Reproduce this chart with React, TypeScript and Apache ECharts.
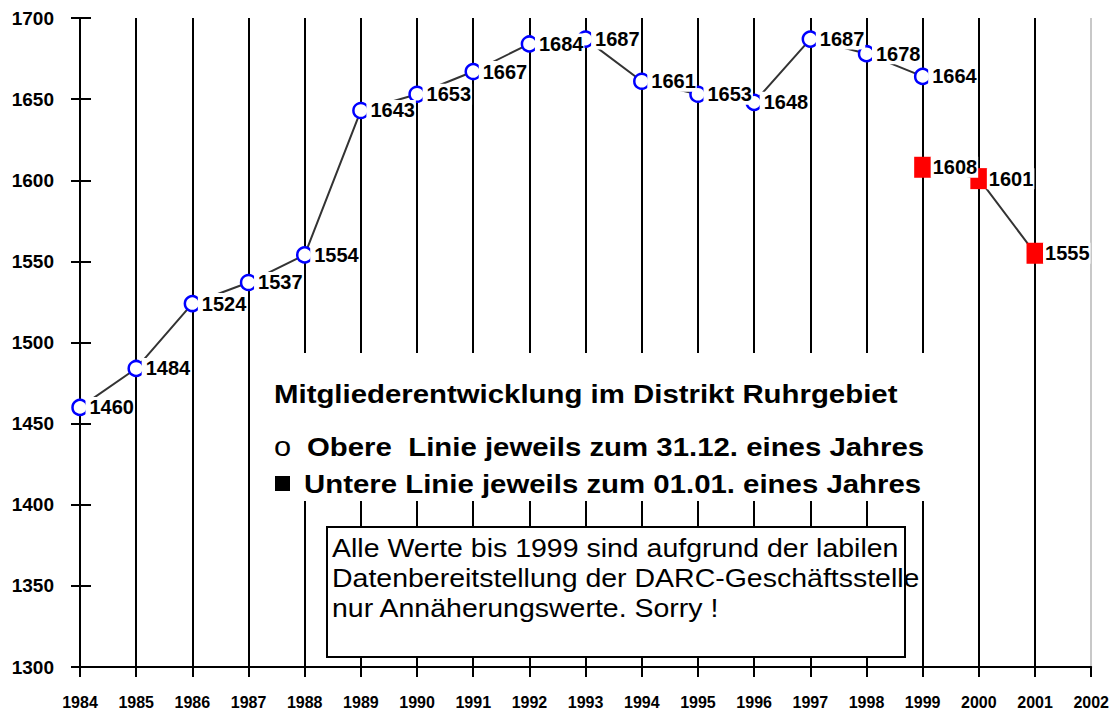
import React, { useEffect, useRef } from "react";
import * as echarts from "echarts";

// ---- data ----
const upperYears = [1984, 1985, 1986, 1987, 1988, 1989, 1990, 1991, 1992, 1993, 1994, 1995, 1996, 1997, 1998, 1999];
const upperValues = [1460, 1484, 1524, 1537, 1554, 1643, 1653, 1667, 1684, 1687, 1661, 1653, 1648, 1687, 1678, 1664];
const lowerYears = [1999, 2000, 2001];
const lowerValues = [1608, 1601, 1555];

const xMin = 1984;
const xMax = 2002;
const yMin = 1300;
const yMax = 1700;
const yStep = 50;

const titleText = "Mitgliederentwicklung im Distrikt Ruhrgebiet";
const upperMarkText = "o";
const upperLegendText = "Obere  Linie jeweils zum 31.12. eines Jahres";
const lowerLegendText = "Untere Linie jeweils zum 01.01. eines Jahres";
const noteLines = [
  "Alle Werte bis 1999 sind aufgrund der labilen",
  "Datenbereitstellung der DARC-Geschäftsstelle",
  "nur Annäherungswerte. Sorry !",
];

const FONT = '"Liberation Sans", Arial, Helvetica, sans-serif';

export default function App() {
  const ref = useRef<HTMLDivElement>(null);

  useEffect(() => {
    if (!ref.current) return;
    const chart = echarts.init(ref.current, undefined, { renderer: "svg" });

    const splitColors: string[] = [];
    for (let v = xMin; v <= xMax; v++) splitColors.push(v === xMax ? "#c8c8c8" : "#000");

    const labelBase = {
      show: true,
      position: "right" as const,
      color: "#000",
      opacity: 1,
      textBorderWidth: 0,
      fontFamily: FONT,
      fontWeight: "bold" as const,
      fontSize: 20,
      lineHeight: 21,
      backgroundColor: "#fff",
      formatter: (p: any) => String(p.value[1]),
    };

    const tickStyle = { color: "#000", width: 2 };
    const upperData = upperYears.map((y, i) => [y, upperValues[i]]);
    const lowerData = lowerYears.map((y, i) => [y, lowerValues[i]]);

    const option: any = {
      animation: false,
      grid: { left: 80, right: 20, top: 18, bottom: 46, containLabel: false },
      xAxis: {
        type: "value",
        min: xMin,
        max: xMax,
        interval: 1,
        axisLine: { show: true, lineStyle: { color: "#000", width: 2 } },
        axisTick: { show: true, length: 10, lineStyle: tickStyle },
        axisLabel: {
          show: true,
          formatter: (v: number) => String(v),
          color: "#000",
          fontFamily: FONT,
          fontWeight: "bold",
          fontSize: 16,
          margin: 27,
        },
        splitLine: { show: true, lineStyle: { color: splitColors, width: 2 } },
      },
      yAxis: [
        {
          type: "value",
          min: yMin,
          max: yMax,
          interval: yStep,
          position: "left",
          axisLine: { show: true, lineStyle: { color: "#000", width: 2 } },
          axisTick: { show: true, length: 9, lineStyle: tickStyle },
          axisLabel: {
            show: true,
            color: "#000",
            fontFamily: FONT,
            fontWeight: "bold",
            fontSize: 19,
            margin: 26,
            formatter: (v: number) => String(v),
          },
          splitLine: { show: false },
        },
        {
          type: "value",
          min: yMin,
          max: yMax,
          interval: yStep,
          position: "left",
          offset: 0,
          axisLine: { show: false },
          axisTick: { show: true, inside: true, length: 11, lineStyle: tickStyle },
          axisLabel: { show: false },
          splitLine: { show: false },
        },
      ],
      series: [
        {
          type: "line",
          data: upperData,
          symbol: "circle",
          symbolSize: 15,
          lineStyle: { color: "#333", width: 2 },
          itemStyle: { color: "#fff", borderColor: "#0000ff", borderWidth: 2.5 },
          label: { show: false },
          z: 3,
        },
        {
          type: "line",
          data: lowerData,
          symbol: "rect",
          symbolSize: [17, 21],
          lineStyle: { color: "#333", width: 2 },
          itemStyle: { color: "#ff0000", borderWidth: 0 },
          label: { show: false },
          z: 3,
        },
        {
          type: "scatter",
          data: upperData,
          symbolSize: 1,
          itemStyle: { color: "#fff", opacity: 1 },
          label: { ...labelBase, distance: 5, padding: [0, 1, 0, 4] },
          emphasis: { disabled: true },
          silent: true,
          z: 10,
        },
        {
          type: "scatter",
          data: lowerData,
          symbolSize: 0,
          itemStyle: { color: "#fff", opacity: 1 },
          label: { ...labelBase, distance: 8, padding: [0, 1, 0, 2] },
          emphasis: { disabled: true },
          silent: true,
          z: 10,
        },
      ],
      graphic: [
        { type: "rect", z: 100, shape: { x: 262, y: 353, width: 678, height: 148 }, style: { fill: "#fff" } },
        {
          type: "text", z: 101, x: 274, y: 394, scaleX: 1.13,
          style: { text: titleText, fontFamily: FONT, fontWeight: "bold", fontSize: 26, fill: "#000", align: "left", verticalAlign: "middle" },
        },
        {
          type: "text", z: 101, x: 274, y: 446, scaleX: 1.1,
          style: { text: upperMarkText, fontFamily: FONT, fontSize: 28, fill: "#000", align: "left", verticalAlign: "middle" },
        },
        {
          type: "text", z: 101, x: 307, y: 447, scaleX: 1.13,
          style: { text: upperLegendText, fontFamily: FONT, fontWeight: "bold", fontSize: 26, fill: "#000", align: "left", verticalAlign: "middle" },
        },
        { type: "rect", z: 101, shape: { x: 275, y: 476, width: 15, height: 15 }, style: { fill: "#000" } },
        {
          type: "text", z: 101, x: 304, y: 484, scaleX: 1.13,
          style: { text: lowerLegendText, fontFamily: FONT, fontWeight: "bold", fontSize: 26, fill: "#000", align: "left", verticalAlign: "middle" },
        },
        {
          type: "rect", z: 100, shape: { x: 327, y: 527, width: 578, height: 130 },
          style: { fill: "#fff", stroke: "#000", lineWidth: 2 },
        },
        ...noteLines.map((t, i) => ({
          type: "text", z: 101, x: 332, y: 549 + i * 30, scaleX: 1.14,
          style: { text: t, fontFamily: FONT, fontSize: 25, fill: "#000", align: "left", verticalAlign: "middle" },
        })),
      ],
    };

    chart.setOption(option);
    return () => chart.dispose();
  }, []);

  return (
    <div
      ref={ref}
      style={{ position: "fixed", left: 0, top: 0, width: 1112, height: 713, background: "#fff" }}
    />
  );
}
